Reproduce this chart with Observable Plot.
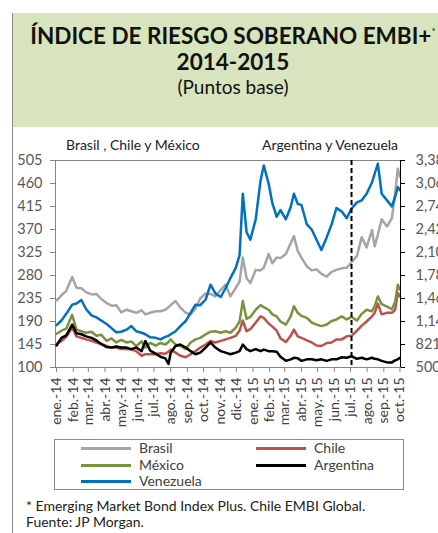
<!DOCTYPE html>
<html><head><meta charset="utf-8">
<script src="https://cdn.jsdelivr.net/npm/d3@7"></script>
<script src="https://cdn.jsdelivr.net/npm/@observablehq/plot@0.6"></script>
<style>
html,body{margin:0;padding:0;background:#fff;}
body{width:438px;height:533px;overflow:hidden;position:relative;font-family:Lato,"Open Sans",sans-serif;}
#vline{position:absolute;left:12px;top:13px;width:1px;height:520px;background:#8c8c8c;}
#titlebox{position:absolute;left:12px;top:13px;width:442px;height:114px;background:#d7e4bd;}
.t{position:absolute;left:12px;width:442px;text-align:center;color:#111;white-space:nowrap;}
#t1{top:22px;font-size:22.5px;font-weight:700;line-height:27px;}
#t1 sup{font-size:10px;font-weight:400;vertical-align:top;position:relative;top:-4px;}
#t2{top:48px;font-size:22.5px;font-weight:700;line-height:27px;}
#t3{top:76px;font-size:19px;line-height:22px;}
.sub{position:absolute;top:136px;font-size:14px;color:#222;white-space:nowrap;line-height:18px;}
#chart{position:absolute;left:0;top:130px;}
#legend{position:absolute;left:54px;top:439px;width:348px;height:49px;border:1px solid #8c8c8c;}
.li{position:absolute;font-size:14px;color:#404040;line-height:16px;white-space:nowrap;}
.ln{position:absolute;height:3px;}
#foot{position:absolute;left:26px;top:498px;font-size:14px;color:#222;line-height:15.5px;white-space:nowrap;}
</style></head>
<body>
<div id="titlebox"></div>
<div id="vline"></div>
<div class="t" id="t1">ÍNDICE DE RIESGO SOBERANO EMBI+<sup>*</sup></div>
<div class="t" id="t2">2014-2015</div>
<div class="t" id="t3">(Puntos base)</div>
<div class="sub" style="left:66px">Brasil , Chile y México</div>
<div class="sub" style="left:262px">Argentina y Venezuela</div>
<div id="chart"></div>
<div id="legend"></div>
<div id="foot">* Emerging Market Bond Index Plus. Chile EMBI Global.<br>Fuente: JP Morgan.</div>
<script>
const dates = ["2014-01-01","2014-01-10","2014-01-19","2014-01-30","2014-02-07","2014-02-16","2014-02-25","2014-03-07","2014-03-16","2014-03-25",
"2014-04-04","2014-04-13","2014-04-22","2014-05-01","2014-05-11","2014-05-20","2014-05-29","2014-06-08","2014-06-15","2014-06-24",
"2014-07-04","2014-07-13","2014-07-22","2014-07-28","2014-08-01","2014-08-10","2014-08-19","2014-08-29","2014-09-07","2014-09-16",
"2014-09-25","2014-10-05","2014-10-14","2014-10-23","2014-11-02","2014-11-11","2014-11-20","2014-11-30","2014-12-07","2014-12-13",
"2014-12-20","2014-12-27","2015-01-06","2015-01-15","2015-01-21","2015-01-30","2015-02-06","2015-02-14","2015-02-21","2015-03-03",
"2015-03-12","2015-03-18","2015-03-25","2015-04-01","2015-04-11","2015-04-20","2015-04-29","2015-05-08","2015-05-18","2015-05-27",
"2015-06-05","2015-06-15","2015-06-24","2015-07-03","2015-07-13","2015-07-22","2015-07-31","2015-08-10","2015-08-15","2015-08-21",
"2015-08-28","2015-09-07","2015-09-16","2015-09-22","2015-09-27","2015-10-01"];

// Left axis series (puntos base)
const brasil = [231,241,250,277,256,255,247,243,244,234,226,221,222,208,213,210,207,212,204,207,
210,210,213,218,222,230,217,207,204,215,235,245,244,239,252,262,239,256,268,315,
275,265,291,290,295,322,304,315,314,322,343,357,328,315,298,290,292,283,278,287,
291,294,295,306,318,355,335,369,337,360,390,376,392,440,489,473];
const chile = [146,152,160,178,161,158,155,152,149,146,142,139,139,136,136,135,132,123,126,126,
126,128,127,131,135,129,123,120,126,132,139,145,152,149,152,155,158,162,172,192,
171,175,188,200,197,186,180,172,157,150,162,174,161,158,153,149,143,142,148,149,
155,155,161,162,172,182,190,200,207,225,204,207,207,213,246,239];
const mexico = [166,172,176,203,174,171,168,170,162,164,152,157,149,154,149,151,142,151,139,148,
143,148,145,150,155,145,142,136,149,155,158,165,170,171,168,171,168,178,190,230,
195,199,213,222,218,213,204,200,190,184,200,220,207,201,197,188,184,181,184,191,
194,200,194,199,192,205,213,210,220,239,224,219,214,228,262,252];
// Right axis series (puntos base)
const argentina = [807,914,949,1099,978,964,935,914,878,828,785,778,792,778,778,757,778,728,871,735,
693,650,628,550,707,800,821,778,728,685,707,778,850,778,728,707,685,707,728,821,
757,728,757,728,750,728,728,721,650,593,614,636,628,593,614,614,600,614,593,614,
614,643,636,657,621,636,614,636,621,614,593,571,571,600,614,636];
const venezuela = [1092,1156,1249,1377,1392,1442,1313,1228,1199,1156,1106,1049,992,999,1028,1078,1006,985,964,921,
914,892,928,942,964,1006,1078,1149,1263,1377,1370,1449,1656,1534,1484,1606,1748,1891,2069,2925,
2390,2283,2569,3111,3318,3068,2790,2604,2697,2569,2740,2925,2783,2768,2497,2426,2283,2141,2319,2497,
2726,2676,2583,2718,2804,2833,2925,3082,3204,3346,2925,2833,2747,2883,3018,2975];

const leftTicks = [100,145,190,235,280,325,370,415,460,505];
const rightTicks = [500,821,1142,1463,1784,2105,2426,2747,3068,3389];
const monthLabels = ["ene.","feb.","mar.","abr.","may.","jun.","jul.","ago.","sep.","oct.","nov.","dic."];
const seriesNames = ["Brasil","Chile","México","Argentina","Venezuela"];
const seriesColors = ["#a5a5a5","#c0504d","#77933c","#000000","#0070c0"];
const xStart = "2013-12-30", xEnd = "2015-10-02";
const dashDate = "2015-07-03";

const toLeft = d3.scaleLinear().domain([rightTicks[0], rightTicks[rightTicks.length-1]]).range([leftTicks[0], leftTicks[leftTicks.length-1]]);
const seriesValues = [brasil, chile, mexico, argentina, venezuela];
const onRight = [false,false,false,true,true];
const tables = seriesValues.map((vals, k) => dates.map((d, i) => ({date: new Date(d), v: onRight[k] ? toLeft(vals[i]) : vals[i]})));
const order = [0,1,2,3,4];
const monthTicks = d3.utcMonth.range(new Date("2014-01-01"), new Date(xEnd));
const fmt = d3.format(",");

const chart = Plot.plot({
  width: 438, height: 303,
  marginLeft: 55, marginRight: 38, marginTop: 30, marginBottom: 66,
  x: {type: "utc", domain: [new Date(xStart), new Date(xEnd)]},
  y: {domain: [leftTicks[0], leftTicks[leftTicks.length-1]]},
  style: {fontFamily: "Lato, sans-serif", fontSize: "14px", background: "transparent", color: "#595959"},
  marks: [
    Plot.frame({stroke: "#868686"}),
    ...order.map(k => Plot.line(tables[k], {x: "date", y: "v", stroke: seriesColors[k], strokeWidth: 2.5, strokeLinejoin: "round"})),
    Plot.ruleX([new Date(dashDate)], {stroke: "#000", strokeWidth: 2, strokeDasharray: "5,3"}),
    Plot.ruleX([new Date(xEnd)], {stroke: "#000", strokeWidth: 1}),
    Plot.axisY(leftTicks, {anchor: "left", tickSize: 5, tickPadding: 8, stroke: "#868686", fill: "#595959", label: null, fontSize: 14.5}),
    Plot.axisY(rightTicks.map(toLeft), {anchor: "right", tickSize: 4, tickPadding: 11, stroke: "#000", fill: "#595959", label: null, fontSize: 14.5,
      tickFormat: v => fmt(Math.round(toLeft.invert(v)))}),
    Plot.axisX(monthTicks, {anchor: "bottom", tickSize: 5, tickPadding: 5, tickRotate: -90, stroke: "#868686", fill: "#404040", label: null, fontSize: 14,
      tickFormat: d => monthLabels[d.getUTCMonth()] + "-" + String(d.getUTCFullYear()).slice(2)})
  ]
});
document.getElementById("chart").appendChild(chart);

// legend
const leg = document.getElementById("legend");
const pos = [[0,0],[1,0],[0,1],[1,1],[0,2]];
const legOrder = [0,1,2,3,4];
legOrder.forEach((k, j) => {
  const [c, r] = pos[j];
  const lx = c === 0 ? 26 : 201;
  const ty = 0 + r * 16.5;
  const ln = document.createElement("div");
  ln.className = "ln";
  ln.style.left = lx + "px"; ln.style.width = "50px"; ln.style.top = (ty + 7) + "px"; ln.style.background = seriesColors[k];
  leg.appendChild(ln);
  const t = document.createElement("div");
  t.className = "li"; t.textContent = seriesNames[k];
  t.style.left = (lx + 58) + "px"; t.style.top = (ty) + "px";
  leg.appendChild(t);
});
</script>
</body></html>
